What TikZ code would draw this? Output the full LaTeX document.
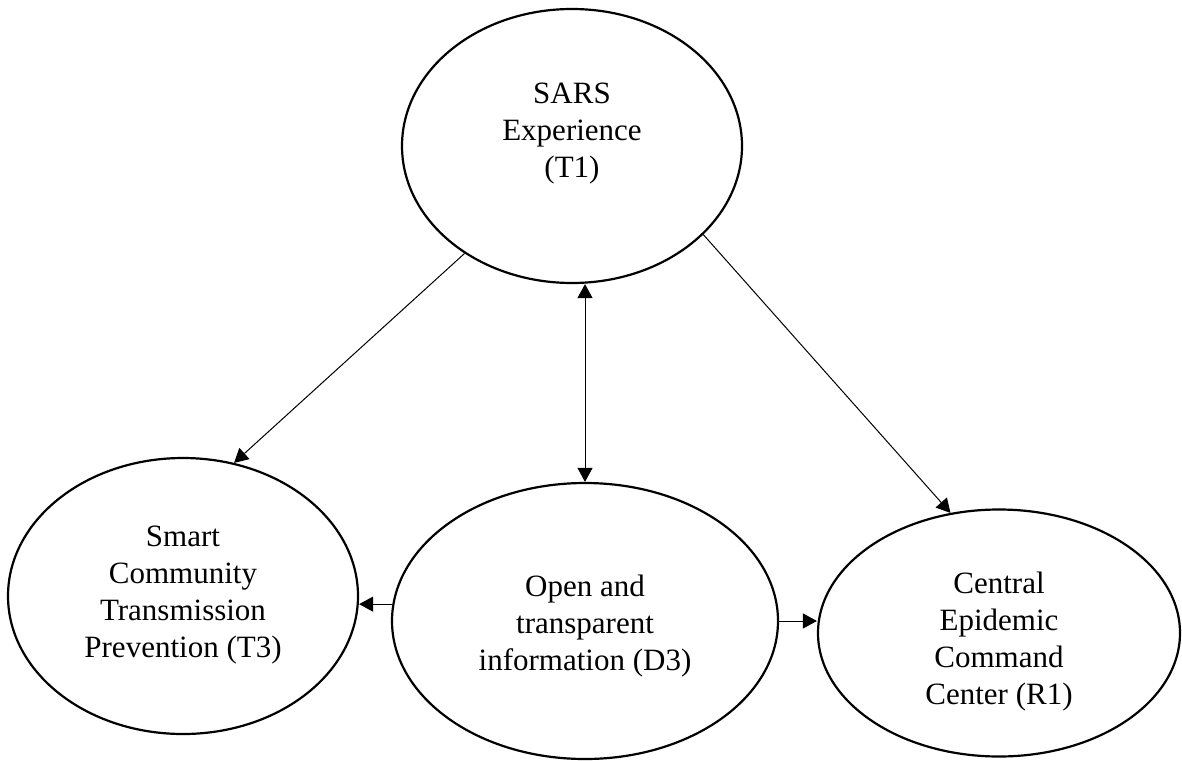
\documentclass[tikz,border=0pt]{standalone}
\usepackage{fontspec}
\setmainfont{Liberation Serif}
\usetikzlibrary{shapes.geometric,arrows.meta}

\begin{document}
\begin{tikzpicture}[x=0.5pt,y=-0.5pt,
    factor/.style={ellipse, draw, line width=1.1pt, inner sep=0pt},
    caption/.style={align=center, inner sep=0pt, font=\fontsize{15.5}{18.5}\selectfont},
    link/.style={line width=0.5pt, -{Triangle[length=7pt,width=7.5pt]}},
    both/.style={line width=0.5pt, {Triangle[length=7pt,width=7.5pt]}-{Triangle[length=7pt,width=7.5pt]}}]
    \useasboundingbox (0,0) rectangle (1182,760);

    \node[factor, minimum width=170pt, minimum height=137pt,
        label={[caption, yshift=6pt]center:{SARS\\Experience\\(T1)}}] (T1) at (572,146) {};
    \node[factor, minimum width=175pt, minimum height=138pt,
        label={[caption, yshift=0.5pt]center:{Smart\\Community\\Transmission\\Prevention (T3)}}] (T3) at (183,596) {};
    \node[factor, minimum width=193pt, minimum height=138pt,
        label={[caption, yshift=-2.5pt]center:{Open and\\transparent\\information (D3)}}] (D3) at (585,621) {};
    \node[factor, minimum width=181pt, minimum height=123.5pt,
        label={[caption, yshift=-4.5pt]center:{Central\\Epidemic\\Command\\Center (R1)}}] (R1) at (999,633) {};

    \draw[link] (T1.225) -- (T3.69);
    \draw[link] (T1.326) -- (R1.112);
    \draw[both] (D3.north |- T1.south) -- (D3.north);
    \draw[link] (D3.175) -- (D3.175 -| T3.east);
    \draw[link] (D3.east) -- (D3.east -| R1.west);
\end{tikzpicture}
\end{document}
